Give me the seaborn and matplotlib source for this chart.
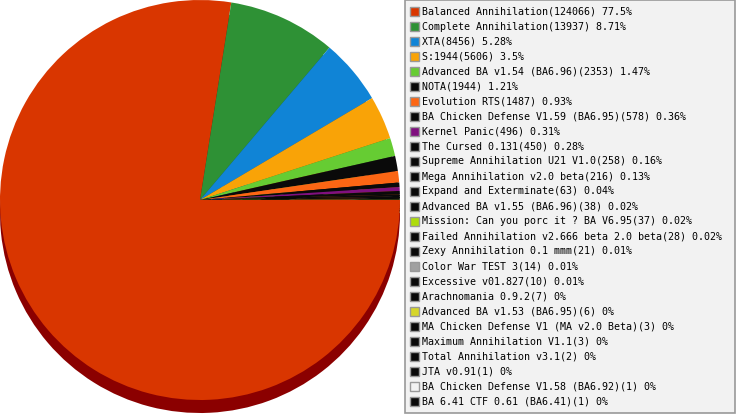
import seaborn as sns
import matplotlib.pyplot as plt
from matplotlib.patches import Rectangle
from matplotlib.colors import to_rgb

# mod names and game counts
mods = ["Balanced Annihilation", "Complete Annihilation", "XTA", "S:1944",
        "Advanced BA v1.54 (BA6.96)", "NOTA", "Evolution RTS",
        "BA Chicken Defense V1.59 (BA6.95)", "Kernel Panic", "The Cursed 0.131",
        "Supreme Annihilation U21 V1.0", "Mega Annihilation v2.0 beta",
        "Expand and Exterminate", "Advanced BA v1.55 (BA6.96)",
        "Mission: Can you porc it ? BA V6.95",
        "Failed Annihilation v2.666 beta 2.0 beta", "Zexy Annihilation 0.1 mmm",
        "Color War TEST 3", "Excessive v01.827", "Arachnomania 0.9.2",
        "Advanced BA v1.53 (BA6.95)", "MA Chicken Defense V1 (MA v2.0 Beta)",
        "Maximum Annihilation V1.1", "Total Annihilation v3.1", "JTA v0.91",
        "BA Chicken Defense V1.58 (BA6.92)", "BA 6.41 CTF 0.61 (BA6.41)"]
counts = [124066, 13937, 8456, 5606, 2353, 1944, 1487, 578, 496, 450, 258, 216,
          63, 38, 37, 28, 21, 14, 10, 7, 6, 3, 3, 2, 1, 1, 1]
colors = ["#D93600", "#2E9135", "#1084D6", "#F9A307", "#66CC33", "#0A0A0A",
          "#FC6614", "#0A0A0A", "#80107F", "#0A0A0A", "#0A0A0A", "#0A0A0A",
          "#0A0A0A", "#0A0A0A", "#AEDC0C", "#0A0A0A", "#0A0A0A", "#A0A0A0",
          "#0A0A0A", "#0A0A0A", "#D6D62A", "#0A0A0A", "#0A0A0A", "#0A0A0A",
          "#0A0A0A", "#F2F2F2", "#0A0A0A"]

sns.set_style("white")
plt.rcParams['font.family'] = ['DejaVu Sans Mono']

W, H = 737, 415
fig = plt.figure(figsize=(W / 100, H / 100), dpi=100)
ax = fig.add_axes([0, 0, 1, 1])

# shadow (3d look) - darker copy shifted down
shadow = ["#8B0000"] + [tuple(c * 0.6 for c in to_rgb(col)) for col in colors[1:]]
ax.pie(counts, colors=shadow, startangle=0, counterclock=False,
       radius=200, center=(200, 202), wedgeprops=dict(linewidth=0))
ax.pie(counts, colors=colors, startangle=0, counterclock=False,
       radius=200, center=(200, 215), wedgeprops=dict(linewidth=0))

ax.set_xlim(0, W)
ax.set_ylim(0, H)
ax.set_aspect('equal')
ax.axis('off')

# legend box
ax.add_patch(Rectangle((405.5, 1.5), 330, 413, facecolor="#F2F2F2",
                       edgecolor="#999999", linewidth=1.2, zorder=5))
total = sum(counts)
for i, (name, n, col) in enumerate(zip(mods, counts, colors)):
    y = H - (11.5 + 15 * i)
    ax.add_patch(Rectangle((410, y - 4.5), 9, 9, facecolor=col,
                           edgecolor="#999999", linewidth=1, zorder=6))
    pct = round(100 * n / total, 2)
    ax.text(422, y, f"{name}({n}) {pct:g}%", fontsize=7.2, va='center',
            ha='left', color='black', zorder=7)

fig.savefig("out.png", dpi=100)
